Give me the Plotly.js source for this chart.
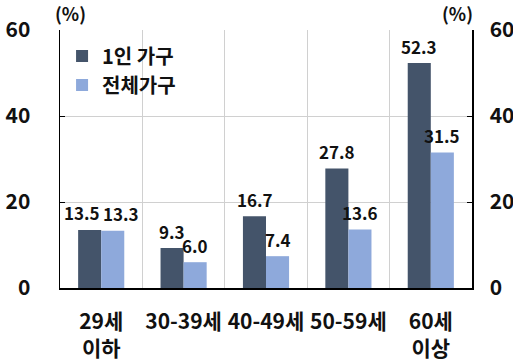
<!DOCTYPE html>
<html>
<head>
<meta charset="utf-8">
<script src="https://cdn.plot.ly/plotly-3.0.1.min.js"></script>
<style>
  html, body { margin: 0; padding: 0; background: #fff; }
  #chart { width: 513px; height: 364px; }
</style>
</head>
<body>
<div id="chart"></div>
<script>
// Age groups of household heads
const categories = ['29세<br>이하', '30-39세', '40-49세', '50-59세', '60세<br>이상'];
// Share (%) by age group
const singleHousehold = [13.5, 9.3, 16.7, 27.8, 52.3];
const allHouseholds = [13.3, 6.0, 7.4, 13.6, 31.5];
const seriesNames = ['1인 가구', '전체가구'];
const yTicks = [0, 20, 40, 60];

const FONT = '"Noto Sans CJK KR", "Noto Sans", sans-serif';
const INK = '#111';
const tickFont = { family: FONT, size: 21, color: INK, weight: 'bold' };
const labelFont = { family: FONT, size: 17, color: INK, weight: 'bold' };

const traces = [
  {
    type: 'bar', name: seriesNames[0], x: categories, y: singleHousehold,
    marker: { color: '#44546A' }, hoverinfo: 'skip'
  },
  {
    type: 'bar', name: seriesNames[1], x: categories, y: allHouseholds,
    marker: { color: '#8EA9DB' }, hoverinfo: 'skip'
  },
  // carries the right-hand axis
  { type: 'scatter', x: [categories[0]], y: [0], yaxis: 'y2', mode: 'markers',
    marker: { opacity: 0 }, showlegend: false, hoverinfo: 'skip' }
];

// value labels above each bar; pairs with nearly equal values are pushed apart
const halfBar = 11.5;
const valueLabels = [];
categories.forEach((c, i) => {
  const a = singleHousehold[i], b = allHouseholds[i];
  const spread = Math.abs(a - b) < 3 ? 8 : 0;
  valueLabels.push(
    { x: c, y: a, text: a.toFixed(1), xshift: -halfBar - spread },
    { x: c, y: b, text: b.toFixed(1), xshift: halfBar + spread }
  );
});

const annotations = valueLabels.map(l => ({
  xref: 'x', yref: 'y', x: l.x, y: l.y, text: l.text,
  xshift: l.xshift, yshift: 17, yanchor: 'middle', xanchor: 'center',
  showarrow: false, font: labelFont
}));

const unitFont = { family: FONT, size: 18, color: INK, weight: 'bold' };
annotations.push(
  { text: '(%)', xref: 'paper', yref: 'paper', x: 0, y: 1, xanchor: 'left', yanchor: 'bottom',
    xshift: -7, yshift: 2, showarrow: false, font: unitFont },
  { text: '(%)', xref: 'paper', yref: 'paper', x: 1, y: 1, xanchor: 'right', yanchor: 'bottom',
    xshift: 3, yshift: 2, showarrow: false, font: unitFont }
);

const layout = {
  width: 513, height: 364,
  margin: { l: 60, r: 41, t: 30, b: 76 },
  paper_bgcolor: '#fff', plot_bgcolor: '#fff',
  barmode: 'group', bargap: 0.44, bargroupgap: 0,
  showlegend: true,
  legend: {
    x: 0.005, y: 0.975, xanchor: 'left', yanchor: 'top',
    font: { family: FONT, size: 20, color: INK, weight: 'bold' },
    bgcolor: 'rgba(255,255,255,0)', tracegroupgap: 0, itemwidth: 30
  },
  xaxis: {
    type: 'category', tickson: 'boundaries', showgrid: true,
    gridcolor: '#d0d0d0', gridwidth: 1,
    showline: true, linecolor: '#000', linewidth: 1.5,
    ticks: '', tickangle: 0, tickfont: tickFont, ticklabelstandoff: 14
  },
  yaxis: {
    range: [0, 60], tickvals: yTicks, showgrid: true,
    gridcolor: '#d0d0d0', gridwidth: 1, zeroline: false,
    showline: true, linecolor: '#000', linewidth: 1.5,
    ticks: 'inside', ticklen: 5, tickcolor: '#000',
    tickfont: tickFont, ticklabelstandoff: 24
  },
  yaxis2: {
    range: [0, 60], tickvals: yTicks, overlaying: 'y', side: 'right',
    showgrid: false, zeroline: false,
    showline: true, linecolor: '#000', linewidth: 1.5,
    ticks: 'inside', ticklen: 5, tickcolor: '#000',
    tickfont: tickFont, ticklabelstandoff: 12
  },
  annotations: annotations
};

Plotly.newPlot('chart', traces, layout, { displayModeBar: false, staticPlot: true });
</script>
</body>
</html>
